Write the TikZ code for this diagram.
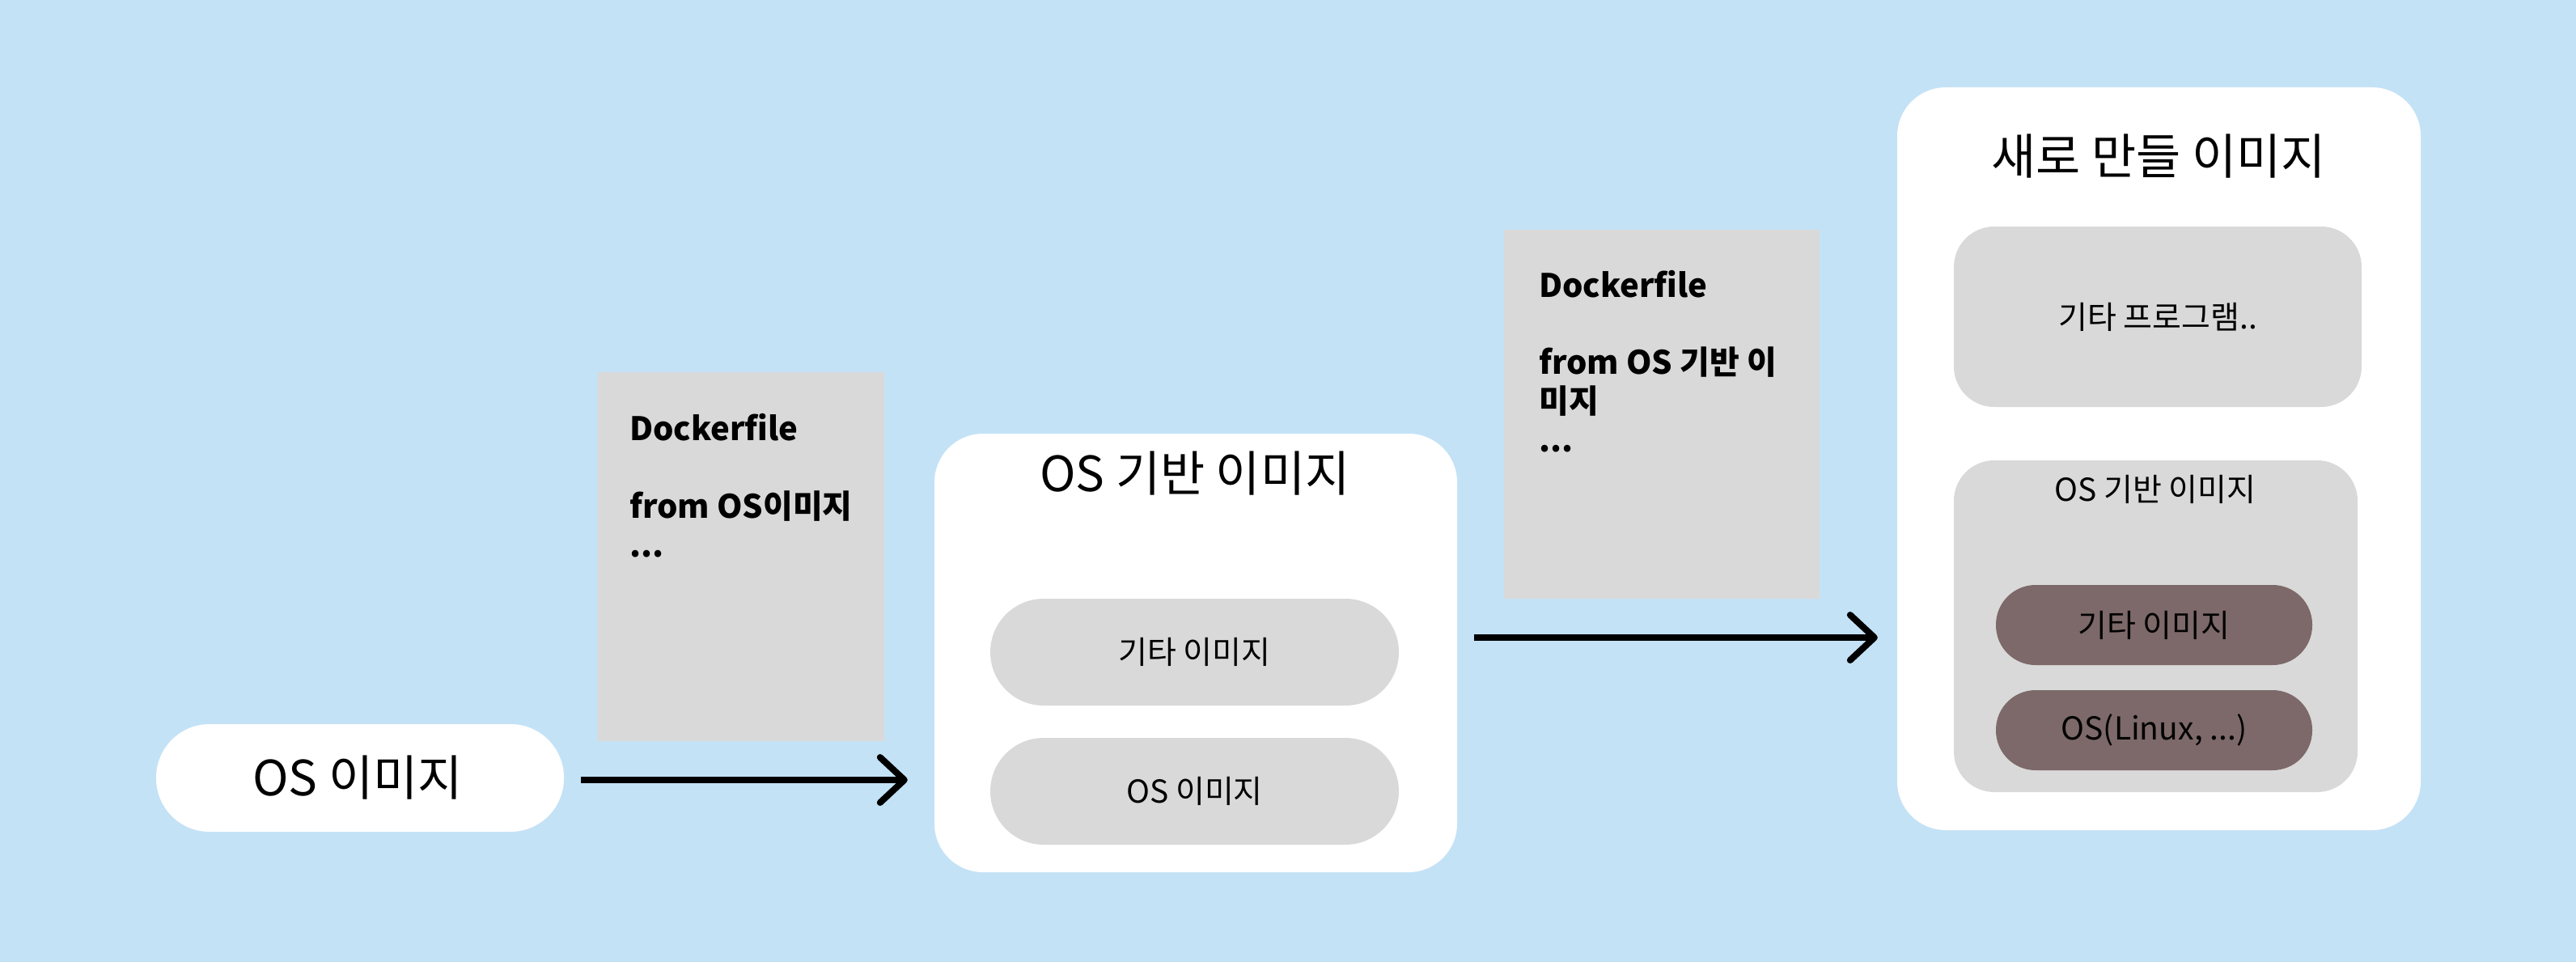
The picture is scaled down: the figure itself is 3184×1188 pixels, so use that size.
\documentclass[tikz,border=0pt]{standalone}
\usepackage{fontspec}
\setmainfont{Noto Sans CJK KR}
\usetikzlibrary{arrows.meta}
\definecolor{bgblue}{HTML}{C4E2F6}
\definecolor{boxgrey}{HTML}{D9D9D9}
\definecolor{darkpill}{HTML}{7D6969}
\tikzset{
  whitebox/.style={draw=none, fill=white, rounded corners=60pt, inner sep=0pt},
  greybox/.style={draw=none, fill=boxgrey, inner sep=0pt},
  pill/.style={draw=none, fill=boxgrey, rounded corners=66pt, inner sep=0pt},
  darkbox/.style={draw=none, fill=darkpill, rounded corners=49pt, inner sep=0pt},
  bigtext/.style={inner sep=0pt, font=\fontsize{60}{72}\selectfont},
  midtext/.style={inner sep=0pt, font=\fontsize{39}{47}\selectfont},
  doctext/.style={inner sep=0pt, anchor=base west, font=\bfseries\fontsize{40}{48}\selectfont},
  arr/.style={line width=8pt, -{Straight Barb[length=30pt, width=56pt, round]}},
}
\begin{document}
\begin{tikzpicture}[x=1pt, y=-1pt]
\useasboundingbox (0,0) rectangle (3184,1188);
\fill[bgblue] (-10,-10) rectangle (3194,1198);

% left pill
\node[whitebox, rounded corners=66pt, minimum width=504pt, minimum height=133pt] (pillA) at (445,961.5) {};
\node[bigtext] (pillAt) at (442,961.5) {OS 이미지};

% dockerfile 1
\node[greybox, minimum width=354pt, minimum height=456pt] (doc1) at (916,688) {};
\node[doctext] (doc1a) at (778,544) {Dockerfile};
\node[doctext] (doc1b) at (778,640) {from OS이미지};
\node[doctext] (doc1c) at (778,688) {...};

% OS-based image box
\node[whitebox, minimum width=646pt, minimum height=542pt] (box2) at (1478,807) {};
\node[bigtext] (box2t) at (1477,585) {OS 기반 이미지};
\node[pill, minimum width=505pt, minimum height=132pt] (pill2a) at (1476.5,806) {};
\node[midtext] (pill2at) at (1476.5,806) {기타 이미지};
\node[pill, minimum width=505pt, minimum height=132pt] (pill2b) at (1476.5,978) {};
\node[midtext] (pill2bt) at (1476.5,978) {OS 이미지};

% dockerfile 2
\node[greybox, minimum width=390pt, minimum height=456pt] (doc2) at (2054,512) {};
\node[doctext] (doc2a) at (1902,367) {Dockerfile};
\node[doctext] (doc2b) at (1902,462) {from OS 기반 이};
\node[doctext] (doc2c) at (1902,510) {미지};
\node[doctext] (doc2d) at (1902,558) {...};

% new image box
\node[whitebox, minimum width=647pt, minimum height=918pt] (box3) at (2668.5,567) {};
\node[bigtext] (box3t) at (2668,193.5) {새로 만들 이미지};
\node[pill, rounded corners=50pt, minimum width=504pt, minimum height=223pt] (pill3a) at (2667,391.5) {};
\node[midtext] (pill3at) at (2667,392) {기타 프로그램..};
\node[pill, rounded corners=50pt, minimum width=499pt, minimum height=410pt] (box3in) at (2664.5,774) {};
\node[midtext] (box3int) at (2664,605) {OS 기반 이미지};
\node[darkbox, minimum width=391pt, minimum height=99pt] (dark1) at (2662.5,772.5) {};
\node[midtext] (dark1t) at (2662.5,772.5) {기타 이미지};
\node[darkbox, minimum width=391pt, minimum height=99pt] (dark2) at (2662.5,902.5) {};
\node[midtext] (dark2t) at (2662.5,902.5) {OS(Linux, ...)};

% arrows
\draw[arr, shorten <=21pt, shorten >=33pt] ([yshift=-2.5pt]pillA.east) -- ([yshift=-2.5pt]pillA.east -| box2.west);
\draw[arr, shorten <=21pt, shorten >=24pt] ([yshift=19pt]box2.east) -- ([yshift=19pt]box2.east -| box3.west);
\end{tikzpicture}
\end{document}
